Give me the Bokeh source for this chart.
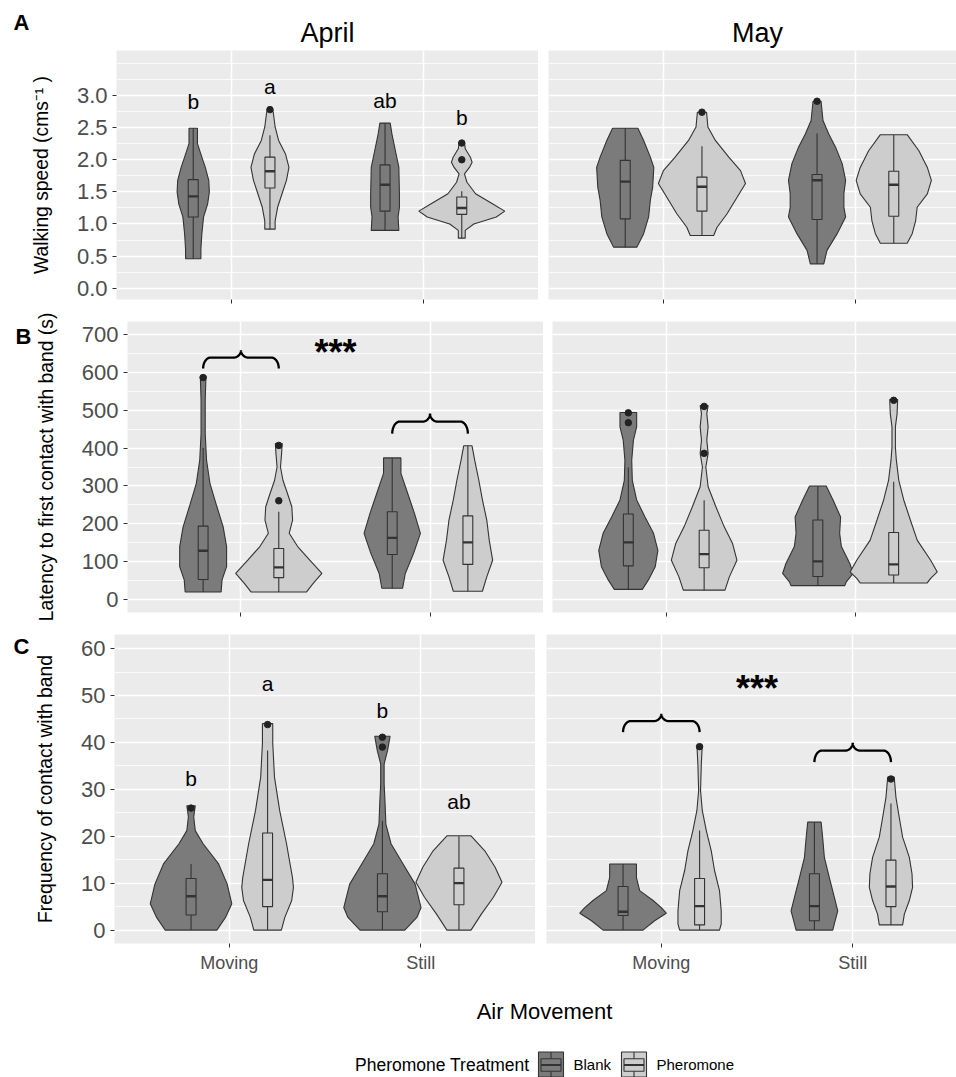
import numpy as np
from bokeh.plotting import figure
from bokeh.layouts import column, row
from bokeh.models import Range1d, FixedTicker, Grid, LinearAxis
from bokeh.embed import file_html
from bokeh.resources import INLINE
from bokeh.core.properties import value

FONT = "Liberation Sans"

# ---------------- data ----------------
CATEGORIES = ["Moving", "Still"]
TREATMENTS = ["Blank", "Pheromone"]
MONTHS = ["April", "May"]
PANEL_TAGS = ["A", "B", "C"]
CAT_POS = [1, 2]
DODGE = [-0.2, 0.2]
# violin order in every panel: Blank-Moving, Pheromone-Moving, Blank-Still, Pheromone-Still
GROUP_CAT = [0, 0, 1, 1]
GROUP_TRT = [0, 1, 0, 1]

# Row A : walking speed
WALK_APR_Y = [
    [0.46, 0.61, 0.85, 1.11, 1.31, 1.50, 1.68, 1.88, 2.04, 2.25, 2.49],
    [0.92, 1.05, 1.26, 1.47, 1.68, 1.88, 2.09, 2.30, 2.51, 2.72, 2.78],
    [0.90, 1.11, 1.26, 1.47, 1.88, 2.14, 2.40, 2.57],
    [0.78, 0.90, 1.00, 1.11, 1.20, 1.31, 1.47, 1.65, 1.78, 1.88, 1.96, 2.04, 2.17, 2.27],
]
WALK_APR_W = [
    [0.040, 0.040, 0.045, 0.054, 0.075, 0.084, 0.081, 0.063, 0.045, 0.022, 0.022],
    [0.027, 0.027, 0.040, 0.063, 0.086, 0.099, 0.081, 0.045, 0.027, 0.018, 0.014],
    [0.072, 0.068, 0.075, 0.075, 0.072, 0.054, 0.036, 0.027],
    [0.018, 0.018, 0.063, 0.180, 0.224, 0.162, 0.072, 0.027, 0.014, 0.040, 0.054, 0.045, 0.018, 0.014],
]
WALK_APR_Q1 = [1.11, 1.56, 1.20, 1.15]
WALK_APR_MED = [1.43, 1.82, 1.61, 1.25]
WALK_APR_Q3 = [1.69, 2.04, 1.92, 1.42]
WALK_APR_LO = [0.46, 0.92, 0.90, 0.78]
WALK_APR_HI = [2.49, 2.38, 2.57, 1.51]
WALK_APR_OUT = [[], [2.78], [], [2.00, 2.26]]
WALK_APR_LETTERS = ["b", "a", "ab", "b"]
WALK_APR_LETTER_Y = [2.79, 3.02, 2.80, 2.55]

WALK_MAY_Y = [
    [0.64, 0.85, 1.11, 1.37, 1.57, 1.88, 2.04, 2.30, 2.49],
    [0.82, 0.95, 1.16, 1.42, 1.63, 1.83, 2.04, 2.30, 2.51, 2.74],
    [0.38, 0.59, 0.85, 1.11, 1.26, 1.47, 1.68, 1.94, 2.20, 2.40, 2.61, 2.91],
    [0.70, 0.85, 1.05, 1.26, 1.47, 1.68, 1.88, 2.14, 2.39],
]
WALK_MAY_W = [
    [0.061, 0.096, 0.122, 0.131, 0.143, 0.149, 0.131, 0.096, 0.066],
    [0.061, 0.079, 0.131, 0.184, 0.227, 0.201, 0.140, 0.070, 0.031, 0.024],
    [0.035, 0.052, 0.105, 0.149, 0.140, 0.140, 0.149, 0.131, 0.096, 0.061, 0.031, 0.021],
    [0.070, 0.096, 0.114, 0.122, 0.175, 0.196, 0.175, 0.131, 0.070],
]
WALK_MAY_Q1 = [1.08, 1.20, 1.07, 1.12]
WALK_MAY_MED = [1.66, 1.58, 1.68, 1.61]
WALK_MAY_Q3 = [1.99, 1.73, 1.77, 1.82]
WALK_MAY_LO = [0.64, 0.82, 0.38, 0.70]
WALK_MAY_HI = [2.49, 2.21, 2.41, 2.39]
WALK_MAY_OUT = [[], [2.74], [2.91], []]

WALK_TICKS = [0.0, 0.5, 1.0, 1.5, 2.0, 2.5, 3.0]
WALK_TICK_LABELS = ["0.0", "0.5", "1.0", "1.5", "2.0", "2.5", "3.0"]

# Row B : latency
LAT_APR_Y = [
    [20, 52, 87, 140, 192, 245, 307, 368, 438, 526, 590],
    [20, 43, 69, 104, 140, 175, 210, 245, 280, 315, 350, 386, 412],
    [30, 69, 122, 175, 227, 280, 333, 374],
    [22, 60, 104, 157, 210, 263, 315, 368, 406],
]
LAT_APR_W = [
    [0.095, 0.100, 0.124, 0.124, 0.106, 0.073, 0.036, 0.018, 0.011, 0.011, 0.015],
    [0.146, 0.182, 0.228, 0.164, 0.100, 0.055, 0.073, 0.069, 0.046, 0.022, 0.009, 0.015, 0.018],
    [0.055, 0.069, 0.113, 0.149, 0.118, 0.082, 0.046, 0.046],
    [0.077, 0.100, 0.131, 0.113, 0.100, 0.077, 0.058, 0.036, 0.022],
]
LAT_APR_Q1 = [53, 58, 119, 93]
LAT_APR_MED = [129, 85, 163, 151]
LAT_APR_Q3 = [194, 135, 232, 221]
LAT_APR_LO = [20, 20, 30, 22]
LAT_APR_HI = [400, 232, 374, 406]
LAT_APR_OUT = [[586], [261, 407], [], []]
LAT_APR_STAR_Y = 675
LAT_APR_BRACE_END = [610, 438]
LAT_APR_BRACE_TOP = [658, 491]

LAT_MAY_Y = [
    [27, 52, 87, 130, 175, 218, 263, 315, 368, 421, 456, 494],
    [25, 60, 104, 148, 192, 245, 298, 350, 386, 421, 456, 491, 512],
    [37, 47, 69, 96, 140, 175, 218, 263, 300],
    [44, 56, 73, 104, 157, 210, 263, 315, 368, 403, 456, 491, 528],
]
LAT_MAY_W = [
    [0.074, 0.106, 0.142, 0.156, 0.133, 0.088, 0.044, 0.021, 0.018, 0.027, 0.044, 0.044],
    [0.110, 0.133, 0.173, 0.150, 0.106, 0.062, 0.021, 0.009, 0.021, 0.014, 0.021, 0.014, 0.021],
    [0.142, 0.150, 0.186, 0.168, 0.124, 0.115, 0.120, 0.080, 0.044],
    [0.177, 0.195, 0.230, 0.195, 0.124, 0.088, 0.053, 0.027, 0.014, 0.009, 0.009, 0.018, 0.021],
]
LAT_MAY_Q1 = [89, 84, 61, 65]
LAT_MAY_MED = [151, 120, 101, 93]
LAT_MAY_Q3 = [226, 183, 210, 177]
LAT_MAY_LO = [27, 25, 37, 44]
LAT_MAY_HI = [349, 262, 300, 311]
LAT_MAY_OUT = [[467, 493], [386, 510], [], [526]]

LAT_TICKS = [0, 100, 200, 300, 400, 500, 600, 700]
LAT_TICK_LABELS = ["0", "100", "200", "300", "400", "500", "600", "700"]

# Row C : frequency of contact
FREQ_APR_Y = [
    [0, 2.7, 5.6, 9.8, 14.1, 18.4, 21.2, 24.1, 26.5],
    [0, 2.7, 6.3, 9.1, 11.2, 18.4, 25.5, 32.6, 39.7, 44.0],
    [0, 2.7, 4.8, 9.8, 14.1, 18.4, 22.6, 26.9, 31.2, 35.4, 38.3, 41.3],
    [0, 3.4, 7.0, 10.2, 13.4, 16.9, 20.1],
]
FREQ_APR_W = [
    [0.135, 0.180, 0.213, 0.189, 0.144, 0.063, 0.022, 0.014, 0.022],
    [0.072, 0.090, 0.126, 0.135, 0.130, 0.099, 0.063, 0.036, 0.027, 0.027],
    [0.117, 0.180, 0.202, 0.171, 0.108, 0.045, 0.018, 0.014, 0.009, 0.009, 0.027, 0.040],
    [0.063, 0.117, 0.180, 0.225, 0.189, 0.135, 0.063],
]
FREQ_APR_Q1 = [3.2, 5.0, 3.9, 5.4]
FREQ_APR_MED = [7.2, 10.7, 7.2, 10.0]
FREQ_APR_Q3 = [11.0, 20.7, 12.0, 13.2]
FREQ_APR_LO = [0, 0, 0, 0]
FREQ_APR_HI = [14.1, 38.3, 23.3, 20.0]
FREQ_APR_OUT = [[26.0], [43.8], [39.0, 41.1], []]
FREQ_APR_LETTERS = ["b", "a", "b", "ab"]
FREQ_APR_LETTER_Y = [30.7, 50.9, 45.3, 25.8]

FREQ_MAY_Y = [
    [0, 2.0, 3.6, 4.8, 6.3, 8.4, 11.2, 14.1],
    [0, 1.3, 4.1, 8.4, 12.7, 16.9, 21.2, 25.5, 29.7, 35.4, 39.4],
    [0, 1.3, 4.1, 7.0, 11.2, 15.5, 19.8, 23.0],
    [1.1, 3.4, 6.3, 9.1, 12.0, 15.5, 19.8, 24.1, 28.3, 32.6],
]
FREQ_MAY_W = [
    [0.104, 0.165, 0.226, 0.200, 0.157, 0.087, 0.070, 0.070],
    [0.104, 0.113, 0.113, 0.104, 0.078, 0.061, 0.035, 0.014, 0.005, 0.009, 0.014],
    [0.096, 0.104, 0.122, 0.104, 0.078, 0.052, 0.043, 0.035],
    [0.061, 0.070, 0.096, 0.113, 0.110, 0.096, 0.061, 0.043, 0.026, 0.017],
]
FREQ_MAY_Q1 = [3.1, 1.1, 2.0, 5.0]
FREQ_MAY_MED = [3.9, 5.1, 5.1, 9.3]
FREQ_MAY_Q3 = [9.3, 11.0, 12.0, 14.9]
FREQ_MAY_LO = [0, 0, 0, 1.1]
FREQ_MAY_HI = [14.1, 21.2, 23.0, 27.0]
FREQ_MAY_OUT = [[], [39.1], [], [32.2]]
FREQ_MAY_STAR_Y = 53.2
FREQ_MAY_BRACE_END = [42.2, 35.8]
FREQ_MAY_BRACE_TOP = [46.1, 39.9]

FREQ_TICKS = [0, 10, 20, 30, 40, 50, 60]
FREQ_TICK_LABELS = ["0", "10", "20", "30", "40", "50", "60"]

STAR_X = 1.5
STAR_TEXT = "***"

# ---------------- style ----------------
FILL = ["#7B7B7B", "#CDCDCD"]
EDGE = "#333333"
PANEL_BG = "#EBEBEB"
BOX_HW = 0.026
X_RANGE = (0.4, 2.6)
FRAME_PX = {}
AXIS_TITLE_SIZE = "19.3px"
LETTER_FS = 21
STAR_FS = 36


def hide_default_grids(p):
    for g in list(p.xgrid) + list(p.ygrid):
        g.visible = False


def minor_ticks(ticks, top):
    step = ticks[1] - ticks[0]
    out = [t + step / 2 for t in ticks]
    return [t for t in out if t < top]


def make_panel(width, height, borders, frame_w, frame_h, x_end, y_rng, ticks, tick_labels,
               ylabel=None, xlabels=False, label_standoff=22, extra_minor=()):
    p = figure(width=width, height=height,
               x_range=Range1d(X_RANGE[0], x_end), y_range=Range1d(*y_rng),
               output_backend="svg", toolbar_location=None,
               x_axis_location=None, y_axis_location=None,
               min_border_left=borders[0], min_border_right=borders[1],
               min_border_top=borders[2], min_border_bottom=borders[3],
               background_fill_color=PANEL_BG, border_fill_color="white",
               outline_line_color=None)
    hide_default_grids(p)
    minors = minor_ticks(ticks, y_rng[1]) + list(extra_minor)
    p.add_layout(Grid(dimension=1, ticker=FixedTicker(ticks=minors),
                      grid_line_color="white", grid_line_width=0.8))
    p.add_layout(Grid(dimension=1, ticker=FixedTicker(ticks=ticks),
                      grid_line_color="white", grid_line_width=1.5))
    p.add_layout(Grid(dimension=0, ticker=FixedTicker(ticks=CAT_POS),
                      grid_line_color="white", grid_line_width=1.5))
    xa = LinearAxis(ticker=FixedTicker(ticks=CAT_POS),
                    major_label_overrides={c: (CATEGORIES[i] if xlabels else "")
                                           for i, c in enumerate(CAT_POS)},
                    axis_line_color=None, major_tick_line_color=EDGE,
                    major_tick_out=4, major_tick_in=0, minor_tick_line_color=None,
                    major_label_text_color="#4D4D4D", major_label_text_font=FONT,
                    major_label_text_font_size="18px" if xlabels else "1px",
                    major_label_standoff=5)
    p.add_layout(xa, "below")
    if ylabel is not None:
        ya = LinearAxis(ticker=FixedTicker(ticks=ticks),
                        major_label_overrides=dict(zip(ticks, tick_labels)),
                        axis_line_color=None, major_tick_line_color=EDGE,
                        major_tick_out=4, major_tick_in=0, minor_tick_line_color=None,
                        major_label_text_color="#4D4D4D", major_label_text_font=FONT,
                        major_label_text_font_size="22px", major_label_standoff=5,
                        axis_label=ylabel, axis_label_text_font=FONT,
                        axis_label_text_font_size=AXIS_TITLE_SIZE,
                        axis_label_text_font_style="normal",
                        axis_label_text_color="black", axis_label_standoff=label_standoff)
        p.add_layout(ya, "left")
    FRAME_PX[p.id] = (frame_w / (x_end - X_RANGE[0]), frame_h / (y_rng[1] - y_rng[0]))
    return p


def text_canvas(width, height):
    p = figure(width=width, height=height, x_range=Range1d(0, width),
               y_range=Range1d(height, 0), output_backend="svg", toolbar_location=None,
               x_axis_location=None, y_axis_location=None, outline_line_color=None,
               min_border=0, background_fill_color="white", border_fill_color="white")
    hide_default_grids(p)
    return p


def put_text(p, x, y, txt, size, bold=False, align="center"):
    p.text(x=[x], y=[y], text=[txt], text_font=value(FONT), text_font_size=size,
           text_font_style="bold" if bold else "normal", text_color="black",
           text_align=align, text_baseline="middle")


def add_violins(p, ys_list, ws_list, q1, med, q3, lo, hi, outs):
    for i in range(len(ys_list)):
        trt = GROUP_TRT[i]
        xc = CAT_POS[GROUP_CAT[i]] + DODGE[trt]
        ys = np.array(ys_list[i], dtype=float)
        ws = np.array(ws_list[i], dtype=float)
        px = np.concatenate([xc + ws, (xc - ws)[::-1]])
        py = np.concatenate([ys, ys[::-1]])
        p.patch(px, py, fill_color=FILL[trt], line_color=EDGE, line_width=1.1)
        p.segment(x0=[xc, xc], y0=[lo[i], q3[i]], x1=[xc, xc], y1=[q1[i], hi[i]],
                  line_color=EDGE, line_width=1.1)
        p.quad(left=[xc - BOX_HW], right=[xc + BOX_HW], bottom=[q1[i]], top=[q3[i]],
               fill_color=FILL[trt], line_color=EDGE, line_width=1.1)
        p.segment(x0=[xc - BOX_HW], x1=[xc + BOX_HW], y0=[med[i]], y1=[med[i]],
                  line_color=EDGE, line_width=2.4)
        if outs[i]:
            p.scatter(x=[xc] * len(outs[i]), y=outs[i], size=6.5,
                      fill_color="#222222", line_color="#222222")


def add_letters(p, letters, baselines):
    ppu_y = FRAME_PX[p.id][1]
    xs = [CAT_POS[GROUP_CAT[i]] + DODGE[GROUP_TRT[i]] for i in range(len(letters))]
    ys = [b + 0.35 * LETTER_FS / ppu_y for b in baselines]
    p.text(x=xs, y=ys, text=letters, text_font=value(FONT), text_font_size=f"{LETTER_FS}px",
           text_color="black", text_align="center", text_baseline="middle")


def brace_path(xc, hw, y_end, y_top, n=14):
    y_mid = y_end + 0.6 * (y_top - y_end)
    rx = 0.2 * hw
    t1 = np.linspace(np.pi, np.pi / 2, n)
    x1 = (xc - hw + rx) + rx * np.cos(t1)
    y1 = y_end + (y_mid - y_end) * np.sin(t1)
    t2 = np.linspace(-np.pi / 2, 0, n)
    x2 = (xc - rx) + rx * np.cos(t2)
    y2 = y_top + (y_top - y_mid) * np.sin(t2)
    lx = np.concatenate([x1, x2])
    ly = np.concatenate([y1, y2])
    return np.concatenate([lx, 2 * xc - lx[::-1]]), np.concatenate([ly, ly[::-1]])


def add_braces(p, ends, tops):
    for i, c in enumerate(CAT_POS):
        bx, by = brace_path(c, DODGE[1], ends[i], tops[i])
        p.line(bx, by, line_color="black", line_width=2.3)


def add_stars(p, y_center):
    ppu_y = FRAME_PX[p.id][1]
    y_mid = y_center - 0.23 * STAR_FS / ppu_y
    p.text(x=[STAR_X], y=[y_mid], text=[STAR_TEXT], text_font=value(FONT),
           text_font_size=f"{STAR_FS}px", text_font_style="bold", text_color="black",
           text_align="center", text_baseline="middle")


PAGE_W = 956
TAG_W = 32

# ---------------- header: panel tag A and strip titles ----------------
header = text_canvas(PAGE_W, 50)
put_text(header, 21, 22, PANEL_TAGS[0], "22px", bold=True)
put_text(header, 327, 32, MONTHS[0], "27px")
put_text(header, 757, 32, MONTHS[1], "27px")

# ---------------- Row A ----------------
WALK_RANGE = (-0.175, 3.7)
a_fw = 422
a1 = make_panel(538, 260, (116, 0, 0, 11), a_fw, 249, X_RANGE[1], WALK_RANGE,
                WALK_TICKS, WALK_TICK_LABELS, ylabel="Walking speed (cms\u207b\u00b9 )",
                extra_minor=[3.5])
a2_fw = 408
a2 = make_panel(418, 260, (10, 0, 0, 11), a2_fw, 249, X_RANGE[0] + a2_fw / (a_fw / 2.2),
                WALK_RANGE, WALK_TICKS, WALK_TICK_LABELS, extra_minor=[3.5])
add_violins(a1, WALK_APR_Y, WALK_APR_W, WALK_APR_Q1, WALK_APR_MED, WALK_APR_Q3,
            WALK_APR_LO, WALK_APR_HI, WALK_APR_OUT)
add_letters(a1, WALK_APR_LETTERS, WALK_APR_LETTER_Y)
add_violins(a2, WALK_MAY_Y, WALK_MAY_W, WALK_MAY_Q1, WALK_MAY_MED, WALK_MAY_Q3,
            WALK_MAY_LO, WALK_MAY_HI, WALK_MAY_OUT)

# ---------------- Row B ----------------
LAT_RANGE = (-34, 734)
b_fw = 417
b_tag = text_canvas(TAG_W, 312)
put_text(b_tag, 23, 16, PANEL_TAGS[1], "22px", bold=True)
b1 = make_panel(543 - TAG_W, 312, (126 - TAG_W, 0, 11, 10), b_fw, 291, X_RANGE[1], LAT_RANGE,
                LAT_TICKS, LAT_TICK_LABELS, ylabel="Latency to first contact with band (s)")
b2_fw = 404
b2 = make_panel(413, 312, (9, 0, 11, 10), b2_fw, 291, X_RANGE[0] + b2_fw / (b_fw / 2.2),
                LAT_RANGE, LAT_TICKS, LAT_TICK_LABELS)
add_violins(b1, LAT_APR_Y, LAT_APR_W, LAT_APR_Q1, LAT_APR_MED, LAT_APR_Q3,
            LAT_APR_LO, LAT_APR_HI, LAT_APR_OUT)
add_braces(b1, LAT_APR_BRACE_END, LAT_APR_BRACE_TOP)
add_stars(b1, LAT_APR_STAR_Y)
add_violins(b2, LAT_MAY_Y, LAT_MAY_W, LAT_MAY_Q1, LAT_MAY_MED, LAT_MAY_Q3,
            LAT_MAY_LO, LAT_MAY_HI, LAT_MAY_OUT)

# ---------------- Row C ----------------
FREQ_RANGE = (-2.86, 63.0)
c_fw = 421
c_tag = text_canvas(TAG_W, 358)
put_text(c_tag, 21, 14, PANEL_TAGS[2], "22px", bold=True)
c1 = make_panel(535 - TAG_W, 358, (114 - TAG_W, 0, 12, 37), c_fw, 309, X_RANGE[1], FREQ_RANGE,
                FREQ_TICKS, FREQ_TICK_LABELS, ylabel="Frequency of contact with band",
                xlabels=True)
c2_fw = 410
c2 = make_panel(421, 358, (11, 0, 12, 37), c2_fw, 309, X_RANGE[0] + c2_fw / (c_fw / 2.2),
                FREQ_RANGE, FREQ_TICKS, FREQ_TICK_LABELS, xlabels=True)
add_violins(c1, FREQ_APR_Y, FREQ_APR_W, FREQ_APR_Q1, FREQ_APR_MED, FREQ_APR_Q3,
            FREQ_APR_LO, FREQ_APR_HI, FREQ_APR_OUT)
add_letters(c1, FREQ_APR_LETTERS, FREQ_APR_LETTER_Y)
add_violins(c2, FREQ_MAY_Y, FREQ_MAY_W, FREQ_MAY_Q1, FREQ_MAY_MED, FREQ_MAY_Q3,
            FREQ_MAY_LO, FREQ_MAY_HI, FREQ_MAY_OUT)
add_braces(c2, FREQ_MAY_BRACE_END, FREQ_MAY_BRACE_TOP)
add_stars(c2, FREQ_MAY_STAR_Y)

# ---------------- bottom: x title + legend ----------------
bot = text_canvas(PAGE_W, 97)
put_text(bot, 544, 31, "Air Movement", "22px")
LEG_Y = 84
KEY = 25
put_text(bot, 529, LEG_Y, "Pheromone Treatment", "17.5px", align="right")
key_x = [538, 621]
lab_x = [573, 656]
for i, trt in enumerate(TREATMENTS):
    x0 = key_x[i]
    y0 = LEG_Y - KEY / 2
    bot.quad(left=[x0], right=[x0 + KEY], top=[y0], bottom=[y0 + KEY],
             fill_color=FILL[i], line_color=EDGE, line_width=1.1)
    bot.quad(left=[x0 + 0.1 * KEY], right=[x0 + 0.9 * KEY], top=[y0 + 0.27 * KEY],
             bottom=[y0 + 0.77 * KEY], fill_color=FILL[i], line_color=EDGE, line_width=1.1)
    bot.segment(x0=[x0 + 0.1 * KEY], x1=[x0 + 0.9 * KEY], y0=[y0 + 0.52 * KEY],
                y1=[y0 + 0.52 * KEY], line_color=EDGE, line_width=2)
    bot.segment(x0=[x0 + KEY / 2, x0 + KEY / 2], x1=[x0 + KEY / 2, x0 + KEY / 2],
                y0=[y0, y0 + 0.77 * KEY], y1=[y0 + 0.27 * KEY, y0 + KEY],
                line_color=EDGE, line_width=1.1)
    put_text(bot, lab_x[i], LEG_Y, trt, "15px", align="left")

layout = column(header, row(a1, a2), row(b_tag, b1, b2), row(c_tag, c1, c2), bot)
open("out.html", "w").write(file_html(layout, INLINE))
